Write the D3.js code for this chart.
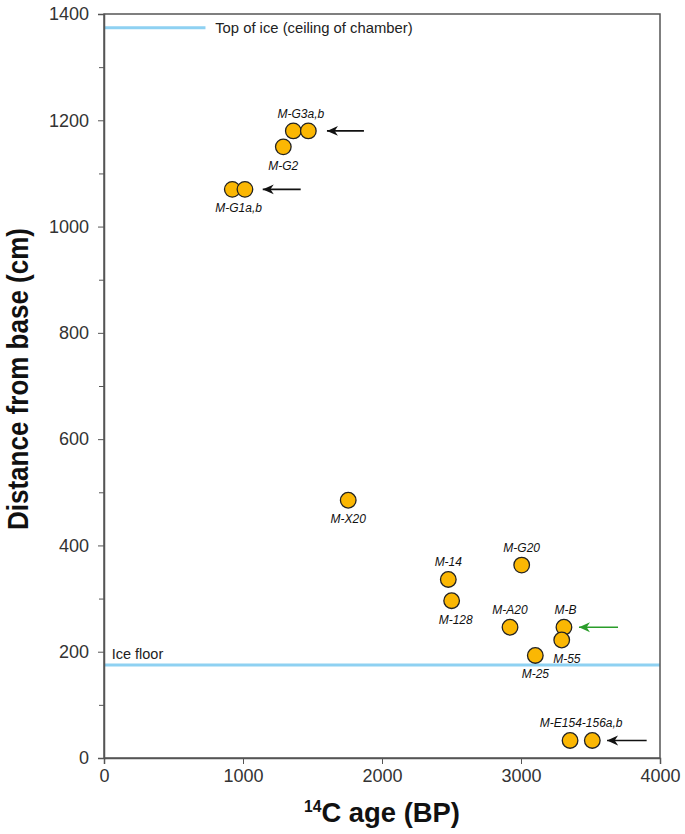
<!DOCTYPE html>
<html>
<head>
<meta charset="utf-8">
<script src="https://cdn.jsdelivr.net/npm/d3@7"></script>
<style>
  body { margin: 0; background: #fff; }
  svg { display: block; }
</style>
</head>
<body>
<div id="chart"></div>
<script>
// sample points: 14C age (BP) and height above base (cm)
const names = ['M-G1a', 'M-G1b', 'M-G2', 'M-G3a', 'M-G3b', 'M-X20', 'M-14', 'M-128',
  'M-G20', 'M-A20', 'M-B', 'M-55', 'M-25', 'M-E154a', 'M-E154b']
const ages = [923, 1014, 1290, 1362, 1470, 1757, 2477, 2501, 3005, 2921, 3309, 3293, 3103, 3353, 3513]
const heights = [1070, 1070, 1150, 1180, 1180, 485, 336, 296, 363, 246, 246, 222, 193, 33, 33]

// labels: text, anchor age, anchor height, placement
const labelText = ['M-G1a,b', 'M-G2', 'M-G3a,b', 'M-X20', 'M-14', 'M-128', 'M-G20', 'M-A20', 'M-B', 'M-55', 'M-25', 'M-E154-156a,b']
const labelAge = [968, 1290, 1416, 1757, 2477, 2530, 3005, 2921, 3320, 3330, 3103, 3433]
const labelHeight = [1070, 1150, 1180, 485, 336, 296, 363, 246, 246, 222, 193, 33]
const labelPos = ['below', 'below', 'above', 'below', 'above', 'below', 'above', 'above', 'above', 'below', 'below', 'above']

// arrows pointing at samples: start age, end age, height, colour
const arrowFrom = [1415, 1870, 3698, 3904]
const arrowTo = [1142, 1604, 3417, 3619]
const arrowAt = [1070, 1180, 246, 33]
const arrowColor = ['#111', '#111', '#2a9d2a', '#111']

const iceTop = 1374
const iceFloor = 175
const xTicks = [0, 1000, 2000, 3000, 4000]
const yTicks = [0, 200, 400, 600, 800, 1000, 1200, 1400]
const yMinor = [100, 300, 500, 700, 900, 1100, 1300]

const W = 685, H = 834
const m = { left: 104, right: 25, top: 14, bottom: 76 }

const svg = d3.select('#chart').append('svg')
  .attr('width', W)
  .attr('height', H)

const x = d3.scaleLinear().domain([0, 4000]).range([m.left, W - m.right])
const y = d3.scaleLinear().domain([0, 1400]).range([H - m.bottom, m.top])

const defs = svg.append('defs')
arrowColor.forEach(function (c, i) {
  defs.append('marker')
    .attr('id', 'ah' + i)
    .attr('viewBox', '0 0 10 10')
    .attr('refX', 10).attr('refY', 5)
    .attr('markerWidth', 11).attr('markerHeight', 11)
    .attr('markerUnits', 'userSpaceOnUse')
    .attr('orient', 'auto')
    .append('path')
    .attr('d', 'M10,5 L0,0.5 L3,5 L0,9.5 Z')
    .attr('fill', c)
})

// ice lines
svg.append('line')
  .attr('x1', x(0)).attr('x2', x(730))
  .attr('y1', y(iceTop)).attr('y2', y(iceTop))
  .attr('stroke', '#8ed1f2').attr('stroke-width', 3)
svg.append('text')
  .attr('x', x(800)).attr('y', y(iceTop) + 5)
  .attr('font-family', 'Liberation Sans, Arial, sans-serif')
  .attr('font-size', 14.8).attr('fill', '#222')
  .text('Top of ice (ceiling of chamber)')

svg.append('line')
  .attr('x1', x(0)).attr('x2', x(4000))
  .attr('y1', y(iceFloor)).attr('y2', y(iceFloor))
  .attr('stroke', '#8ed1f2').attr('stroke-width', 3)
svg.append('text')
  .attr('x', x(55)).attr('y', y(iceFloor) - 6)
  .attr('font-family', 'Liberation Sans, Arial, sans-serif')
  .attr('font-size', 14.5).attr('fill', '#222')
  .text('Ice floor')

// frame
svg.append('rect')
  .attr('x', x(0)).attr('y', y(1400))
  .attr('width', x(4000) - x(0)).attr('height', y(0) - y(1400))
  .attr('fill', 'none').attr('stroke', '#555').attr('stroke-width', 1.5)

// axes
const xAxis = svg.append('g')
  .attr('transform', 'translate(0,' + y(0) + ')')
  .call(d3.axisBottom(x).tickValues(xTicks).tickSize(6).tickPadding(5).tickFormat(d3.format('d')))
const yAxis = svg.append('g')
  .attr('transform', 'translate(' + x(0) + ',0)')
  .call(d3.axisLeft(y).tickValues(yTicks).tickSize(6).tickPadding(9).tickFormat(d3.format('d')))
svg.append('g')
  .attr('transform', 'translate(' + x(0) + ',0)')
  .call(d3.axisLeft(y).tickValues(yMinor).tickSize(5).tickFormat(''))
  .call(g => g.select('.domain').remove())
  .selectAll('line').attr('stroke', '#555')

;[xAxis, yAxis].forEach(function (g) {
  g.select('.domain').attr('stroke', '#555').attr('stroke-width', 1.5)
  g.selectAll('.tick line').attr('stroke', '#555')
  g.selectAll('.tick text')
    .attr('font-family', 'Liberation Sans, Arial, sans-serif')
    .attr('font-size', 18).attr('fill', '#333')
})

// axis titles
svg.append('text')
  .attr('transform', 'translate(28,379) rotate(-90)')
  .attr('text-anchor', 'middle')
  .attr('font-family', 'Liberation Sans, Arial, sans-serif')
  .attr('font-weight', 'bold').attr('font-size', 30).attr('fill', '#111')
  .attr('textLength', 302).attr('lengthAdjust', 'spacingAndGlyphs')
  .text('Distance from base (cm)')

const xt = svg.append('text')
  .attr('x', (x(0) + x(4000)) / 2).attr('y', 822)
  .attr('text-anchor', 'middle')
  .attr('font-family', 'Liberation Sans, Arial, sans-serif')
  .attr('font-weight', 'bold').attr('font-size', 28).attr('fill', '#111')
  .attr('textLength', 156).attr('lengthAdjust', 'spacingAndGlyphs')
xt.append('tspan').attr('font-size', 16).attr('dy', -10).text('14')
xt.append('tspan').attr('dy', 10).text('C age (BP)')

// arrows
svg.selectAll('line.arrow')
  .data(arrowFrom)
  .enter()
  .append('line')
  .attr('class', 'arrow')
  .attr('x1', function (d) { return x(d) })
  .attr('x2', function (d, i) { return x(arrowTo[i]) })
  .attr('y1', function (d, i) { return y(arrowAt[i]) })
  .attr('y2', function (d, i) { return y(arrowAt[i]) })
  .attr('stroke', function (d, i) { return arrowColor[i] })
  .attr('stroke-width', 1.6)
  .attr('marker-end', function (d, i) { return 'url(#ah' + i + ')' })

// points
svg.selectAll('circle')
  .data(ages)
  .enter()
  .append('circle')
  .attr('id', function (d, i) { return names[i] })
  .attr('cx', function (d) { return x(d) })
  .attr('cy', function (d, i) { return y(heights[i]) })
  .attr('r', 7.8)
  .attr('fill', '#fbb703')
  .attr('stroke', '#222')
  .attr('stroke-width', 1.3)

// point labels
svg.selectAll('text.lab')
  .data(labelText)
  .enter()
  .append('text')
  .attr('class', 'lab')
  .attr('x', function (d, i) { return x(labelAge[i]) })
  .attr('y', function (d, i) { return y(labelHeight[i]) + (labelPos[i] === 'above' ? -13 : 23) })
  .attr('text-anchor', 'middle')
  .attr('font-family', 'Liberation Sans, Arial, sans-serif')
  .attr('font-style', 'italic')
  .attr('font-size', 12)
  .attr('fill', '#111')
  .text(function (d) { return d })
</script>
</body>
</html>
